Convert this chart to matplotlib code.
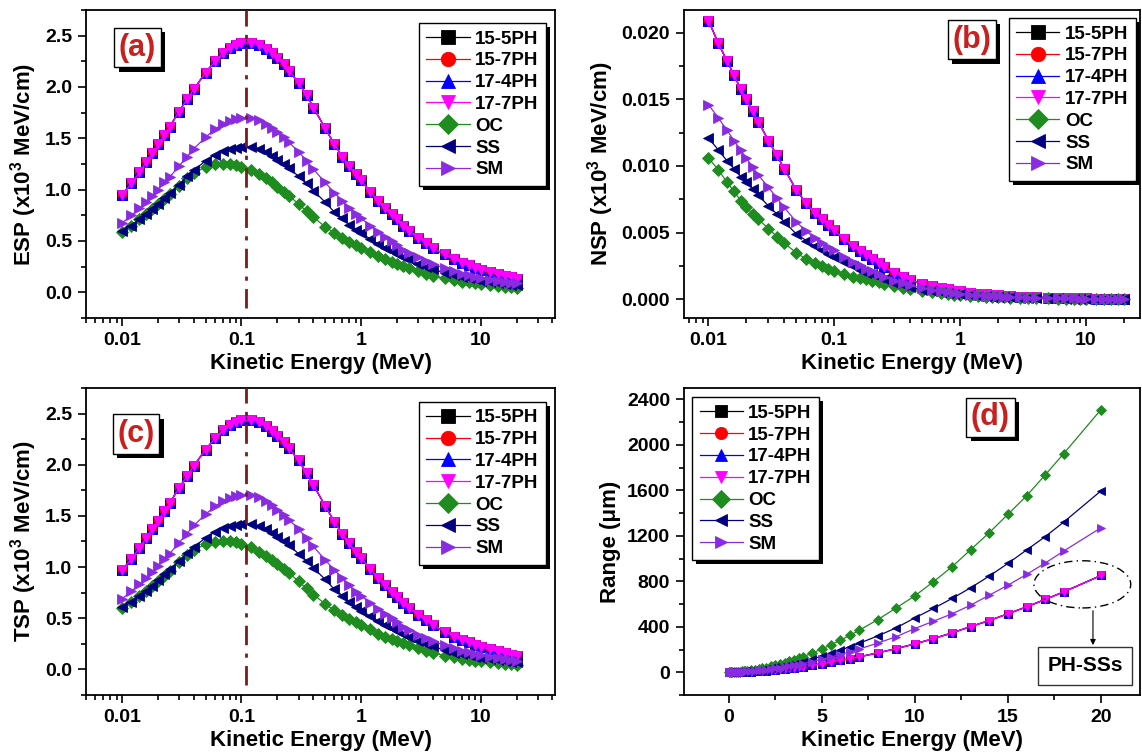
import matplotlib
matplotlib.use('Agg')
import matplotlib.pyplot as plt
import matplotlib.patheffects as pe
from matplotlib.patches import Ellipse
from matplotlib.ticker import MultipleLocator, LogLocator, NullFormatter, FuncFormatter, FixedLocator

plt.rcParams['font.family'] = ['Liberation Sans', 'DejaVu Sans']
plt.rcParams['font.weight'] = 'bold'
plt.rcParams['mathtext.fontset'] = 'custom'
plt.rcParams['mathtext.rm'] = 'Liberation Sans:bold'
plt.rcParams['mathtext.default'] = 'rm'

# ---- data ----
names = ['15-5PH', '15-7PH', '17-4PH', '17-7PH', 'OC', 'SS', 'SM']
colors = ['black', 'red', 'blue', 'magenta', '#1e8c1e', '#000080', '#8a2be2']
markers = ['s', 'o', '^', 'v', 'D', '<', '>']

# kinetic energy (MeV) for panels a-c
energy = [0.010, 0.012, 0.014, 0.016, 0.018, 0.020, 0.0225, 0.025, 0.030, 0.035, 0.040, 0.050, 0.060, 0.070, 0.080, 0.090,
          0.10, 0.12, 0.14, 0.16, 0.18, 0.20, 0.225, 0.25, 0.30, 0.35, 0.40, 0.50, 0.60, 0.70, 0.80, 0.90,
          1.0, 1.2, 1.4, 1.6, 1.8, 2.0, 2.25, 2.5, 3.0, 3.5, 4.0, 5.0, 6.0, 7.0, 8.0, 9.0,
          10, 12, 14, 16, 18, 20]

# electronic stopping power (x10^3 MeV/cm); the four PH steels overlap
esp_ph = [0.95, 1.06, 1.17, 1.27, 1.36, 1.44, 1.53, 1.61, 1.76, 1.88, 1.98, 2.14, 2.25, 2.33, 2.38, 2.41,
          2.43, 2.43, 2.41, 2.37, 2.33, 2.28, 2.22, 2.16, 2.04, 1.92, 1.80, 1.60, 1.44, 1.32, 1.23, 1.15,
          1.09, 0.98, 0.89, 0.82, 0.76, 0.71, 0.65, 0.60, 0.53, 0.48, 0.43, 0.37, 0.32, 0.29, 0.265, 0.24,
          0.22, 0.195, 0.175, 0.158, 0.145, 0.133]
esp_oc = [0.59, 0.65, 0.71, 0.76, 0.81, 0.86, 0.91, 0.96, 1.04, 1.11, 1.16, 1.22, 1.245, 1.25, 1.25, 1.24,
          1.22, 1.19, 1.15, 1.11, 1.07, 1.03, 0.98, 0.94, 0.86, 0.79, 0.73, 0.64, 0.575, 0.53, 0.49, 0.46,
          0.435, 0.39, 0.35, 0.32, 0.295, 0.275, 0.255, 0.235, 0.205, 0.18, 0.163, 0.135, 0.117, 0.104, 0.096, 0.087,
          0.080, 0.070, 0.062, 0.055, 0.050, 0.046]
esp_ss = [0.594, 0.65, 0.71, 0.76, 0.81, 0.86, 0.92, 0.97, 1.05, 1.13, 1.19, 1.28, 1.34, 1.38, 1.40, 1.41,
          1.42, 1.42, 1.40, 1.37, 1.33, 1.29, 1.25, 1.21, 1.13, 1.06, 0.99, 0.88, 0.78, 0.72, 0.66, 0.61,
          0.575, 0.52, 0.47, 0.43, 0.40, 0.375, 0.345, 0.32, 0.28, 0.25, 0.225, 0.19, 0.165, 0.148, 0.137, 0.125,
          0.115, 0.100, 0.090, 0.081, 0.075, 0.069]
esp_sm = [0.675, 0.75, 0.82, 0.88, 0.94, 1.00, 1.07, 1.12, 1.23, 1.32, 1.40, 1.51, 1.59, 1.64, 1.67, 1.69,
          1.70, 1.70, 1.68, 1.64, 1.60, 1.56, 1.51, 1.46, 1.37, 1.28, 1.20, 1.07, 0.97, 0.89, 0.82, 0.76,
          0.72, 0.65, 0.59, 0.54, 0.50, 0.46, 0.415, 0.385, 0.34, 0.305, 0.275, 0.235, 0.205, 0.183, 0.166, 0.152,
          0.141, 0.123, 0.110, 0.100, 0.093, 0.087]

# nuclear stopping power (x10^3 MeV/cm)
nsp_ph = [0.0209, 0.0192, 0.0179, 0.0168, 0.0158, 0.0150, 0.0141, 0.0133, 0.0119, 0.0108, 0.0098, 0.0082, 0.0072, 0.0065, 0.0060, 0.0056,
          0.0052, 0.0045, 0.0040, 0.0036, 0.0033, 0.0030, 0.0027, 0.0024, 0.0020, 0.0017, 0.00145, 0.00118, 0.00098, 0.00084, 0.00074, 0.00066,
          0.00060, 0.00050, 0.00043, 0.00038, 0.00034, 0.00031, 0.00028, 0.00025, 0.00021, 0.00018, 0.00016, 0.00013, 0.00011, 0.000095, 0.000085, 0.000076,
          0.000069, 0.000058, 0.000050, 0.000045, 0.000040, 0.000036]
nsp_oc = [0.0106, 0.0097, 0.0088, 0.0081, 0.0074, 0.0069, 0.0064, 0.0060, 0.0053, 0.0047, 0.0042, 0.0035, 0.0030, 0.0027, 0.0025, 0.0023,
          0.0021, 0.0019, 0.0017, 0.0016, 0.0015, 0.0014, 0.00128, 0.00118, 0.00100, 0.00087, 0.00076, 0.00062, 0.00052, 0.00045, 0.00040, 0.00036,
          0.00032, 0.00027, 0.00023, 0.00020, 0.00018, 0.00016, 0.00015, 0.00013, 0.00011, 0.000095, 0.000083, 0.000068, 0.000057, 0.000050, 0.000044, 0.000040,
          0.000036, 0.000030, 0.000026, 0.000023, 0.000021, 0.000019]
nsp_ss = [0.0121, 0.0112, 0.0104, 0.0098, 0.0092, 0.0088, 0.0083, 0.0078, 0.0070, 0.0064, 0.0058, 0.0049, 0.0044, 0.0040, 0.0037, 0.0034,
          0.0032, 0.0028, 0.0025, 0.0022, 0.0020, 0.0019, 0.0017, 0.0015, 0.0012, 0.00105, 0.0009, 0.00073, 0.00061, 0.00052, 0.00046, 0.00041,
          0.00037, 0.00031, 0.00027, 0.00024, 0.00021, 0.00019, 0.00017, 0.000155, 0.00013, 0.00011, 0.0001, 0.000081, 0.000068, 0.000059, 0.000053, 0.000047,
          0.000043, 0.000036, 0.000031, 0.000028, 0.000025, 0.000022]
nsp_sm = [0.0146, 0.0136, 0.0127, 0.0119, 0.0112, 0.0106, 0.0099, 0.0093, 0.0084, 0.0076, 0.0069, 0.0058, 0.0051, 0.0046, 0.0042, 0.0039,
          0.0037, 0.0032, 0.0028, 0.0026, 0.0023, 0.0021, 0.0019, 0.0017, 0.0014, 0.0012, 0.00104, 0.00085, 0.00071, 0.00060, 0.00053, 0.00047,
          0.00043, 0.00036, 0.00031, 0.00027, 0.00024, 0.00022, 0.00020, 0.00018, 0.00015, 0.00013, 0.000115, 0.000094, 0.000079, 0.000068, 0.000061, 0.000055,
          0.000050, 0.000042, 0.000036, 0.000032, 0.000029, 0.000026]

# total stopping power (x10^3 MeV/cm)
tsp_ph = [0.971, 1.079, 1.188, 1.287, 1.376, 1.455, 1.544, 1.623, 1.772, 1.891, 1.990, 2.148, 2.257, 2.337, 2.386, 2.416,
          2.435, 2.435, 2.414, 2.374, 2.333, 2.283, 2.223, 2.162, 2.042, 1.922, 1.801, 1.601, 1.441, 1.321, 1.231, 1.151,
          1.091, 0.981, 0.890, 0.820, 0.760, 0.710, 0.650, 0.600, 0.530, 0.480, 0.430, 0.370, 0.320, 0.290, 0.265, 0.240,
          0.220, 0.195, 0.175, 0.158, 0.145, 0.133]
tsp_oc = [0.601, 0.660, 0.719, 0.768, 0.817, 0.867, 0.916, 0.966, 1.045, 1.115, 1.164, 1.224, 1.248, 1.253, 1.253, 1.242,
          1.222, 1.192, 1.152, 1.112, 1.072, 1.031, 0.981, 0.941, 0.861, 0.791, 0.731, 0.641, 0.576, 0.531, 0.490, 0.460,
          0.435, 0.39, 0.35, 0.32, 0.295, 0.275, 0.255, 0.235, 0.205, 0.18, 0.163, 0.135, 0.117, 0.104, 0.096, 0.087,
          0.080, 0.070, 0.062, 0.055, 0.050, 0.046]
tsp_ss = [0.606, 0.661, 0.720, 0.770, 0.819, 0.869, 0.928, 0.978, 1.057, 1.136, 1.196, 1.285, 1.344, 1.384, 1.404, 1.413,
          1.423, 1.423, 1.403, 1.372, 1.332, 1.292, 1.252, 1.212, 1.131, 1.061, 0.991, 0.881, 0.781, 0.721, 0.660, 0.610,
          0.575, 0.52, 0.47, 0.43, 0.40, 0.375, 0.345, 0.32, 0.28, 0.25, 0.225, 0.19, 0.165, 0.148, 0.137, 0.125,
          0.115, 0.100, 0.090, 0.081, 0.075, 0.069]
tsp_sm = [0.690, 0.764, 0.833, 0.892, 0.951, 1.011, 1.080, 1.129, 1.238, 1.328, 1.407, 1.516, 1.595, 1.645, 1.674, 1.694,
          1.704, 1.703, 1.683, 1.643, 1.602, 1.562, 1.512, 1.462, 1.371, 1.281, 1.201, 1.071, 0.971, 0.891, 0.821, 0.760,
          0.720, 0.650, 0.590, 0.540, 0.500, 0.460, 0.415, 0.385, 0.340, 0.305, 0.275, 0.235, 0.205, 0.183, 0.166, 0.152,
          0.141, 0.123, 0.110, 0.100, 0.093, 0.087]

# projected range (um) for panel d
range_energy = [0.01, 0.05, 0.1, 0.2, 0.3, 0.4, 0.5, 0.6, 0.7, 0.8, 0.9, 1.0, 1.2, 1.4, 1.6, 1.8,
                2.0, 2.25, 2.5, 2.75, 3.0, 3.25, 3.5, 3.75, 4.0, 4.5, 5.0, 5.5, 6.0, 6.5, 7.0,
                8, 9, 10, 11, 12, 13, 14, 15, 16, 17, 18, 20]
range_ph = [0.04, 0.15, 0.26, 0.5, 0.85, 1.2, 1.6, 2.1, 2.6, 3.2, 3.9, 4.6, 6.3, 8.1, 10.3, 12.5,
            15, 18.8, 22.5, 26.5, 30.5, 35, 40, 45, 50, 63, 75, 89, 104, 119, 135,
            170, 208, 249, 296, 346, 402, 455, 514, 575, 640, 707, 851]
range_oc = [0.1, 0.4, 0.7, 1.4, 2.3, 3.2, 4.3, 5.6, 7.0, 8.7, 10.5, 12.5, 17, 22, 28, 34,
            41, 51, 61, 72, 83, 95, 108, 121, 136, 170, 204, 242, 282, 324, 368,
            462, 566, 672, 796, 928, 1078, 1228, 1389, 1551, 1735, 1923, 2310]
range_ss = [0.1, 0.3, 0.5, 1.0, 1.6, 2.2, 3.0, 3.9, 4.8, 6.0, 7.2, 8.6, 12, 15, 19, 23.5,
            28, 35, 42, 50, 57, 66, 75, 84, 94, 117, 141, 167, 195, 224, 254,
            319, 391, 478, 561, 649, 743, 846, 957, 1075, 1192, 1321, 1595]
range_sm = [0.05, 0.2, 0.4, 0.8, 1.3, 1.8, 2.4, 3.1, 3.9, 4.8, 5.8, 6.9, 9.4, 12, 15.5, 19,
            23, 28, 34, 40, 46, 53, 60, 67, 76, 94, 113, 134, 156, 180, 204,
            256, 313, 384, 449, 514, 590, 678, 766, 860, 960, 1066, 1271]

esp = [esp_ph, esp_ph, esp_ph, esp_ph, esp_oc, esp_ss, esp_sm]
nsp = [nsp_ph, nsp_ph, nsp_ph, nsp_ph, nsp_oc, nsp_ss, nsp_sm]
tsp = [tsp_ph, tsp_ph, tsp_ph, tsp_ph, tsp_oc, tsp_ss, tsp_sm]
rng = [range_ph, range_ph, range_ph, range_ph, range_oc, range_ss, range_sm]

fig = plt.figure(figsize=(11.42, 7.56), dpi=100)
ax_a = fig.add_axes([0.0753, 0.5794, 0.4107, 0.4074])
ax_b = fig.add_axes([0.599, 0.5794, 0.3993, 0.4074])
ax_c = fig.add_axes([0.0753, 0.0807, 0.4107, 0.4061])
ax_d = fig.add_axes([0.599, 0.0807, 0.3993, 0.4061])

box_shadow = [pe.SimplePatchShadow(offset=(3, -3), shadow_rgbFace='black', alpha=1.0), pe.Normal()]


def plot_series(ax, x, ys, ms):
    for name, col, mk, y in zip(names, colors, markers, ys):
        ax.plot(x, y, color=col, marker=mk, ms=ms, mec=col, mew=0.6, lw=0.9, label=name)


def style_axes(ax):
    for sp in ax.spines.values():
        sp.set_linewidth(1.3)
    ax.tick_params(which='both', direction='out', top=False, right=False, width=1.2, labelsize=14)
    ax.tick_params(which='major', length=6, pad=4)
    ax.tick_params(which='minor', length=3.5)
    ax.set_xlabel('Kinetic Energy (MeV)', fontsize=16, fontweight='bold', labelpad=3)


def log_xaxis(ax):
    ax.set_xscale('log')
    ax.xaxis.set_major_locator(FixedLocator([0.01, 0.1, 1, 10]))
    ax.xaxis.set_major_formatter(FuncFormatter(lambda v, p: '%g' % v))
    ax.xaxis.set_minor_locator(LogLocator(base=10, subs=range(2, 10), numticks=20))
    ax.xaxis.set_minor_formatter(NullFormatter())


def add_legend(ax, anchor, loc):
    leg = ax.legend(loc=loc, bbox_to_anchor=anchor, fontsize=13.5, frameon=True, fancybox=False,
                    edgecolor='black', shadow=False, markerscale=1.6,
                    handlelength=2.3, labelspacing=0.25, borderpad=0.4, handletextpad=0.3,
                    borderaxespad=0)
    frame = leg.get_frame()
    frame.set_linewidth(1.0)
    frame.set_alpha(1.0)
    frame.set_path_effects(box_shadow)


def panel_tag(ax, x, y, s):
    t = ax.text(x, y, s, transform=ax.transAxes, fontsize=22, color='#c8201e', ha='center', va='center',
                bbox=dict(boxstyle='square,pad=0.15', fc='white', ec='black', lw=1), zorder=9)
    t.get_bbox_patch().set_path_effects(box_shadow)


# (a) electronic stopping power
plot_series(ax_a, energy, esp, 6.5)
ax_a.plot([0.11, 0.11], [-0.15, 2.75], color='#7a1c1c', lw=2, ls=(0, (7, 3, 1.5, 3)), zorder=6)
log_xaxis(ax_a)
ax_a.set_xlim(0.005, 42)
ax_a.set_ylim(-0.25, 2.75)
ax_a.yaxis.set_major_locator(MultipleLocator(0.5))
ax_a.yaxis.set_minor_locator(MultipleLocator(0.25))
ax_a.yaxis.set_major_formatter(FuncFormatter(lambda v, p: '%.1f' % v))
style_axes(ax_a)
ax_a.set_ylabel('ESP (x10$^3$ MeV/cm)', fontsize=16, fontweight='bold')
add_legend(ax_a, (0.981, 0.958), 'upper right')
panel_tag(ax_a, 0.11, 0.877, '(a)')

# (b) nuclear stopping power
plot_series(ax_b, energy, nsp, 6.5)
log_xaxis(ax_b)
ax_b.set_xlim(0.0064, 27)
ax_b.set_ylim(-0.0014, 0.0217)
ax_b.yaxis.set_major_locator(MultipleLocator(0.005))
ax_b.yaxis.set_minor_locator(MultipleLocator(0.0025))
ax_b.yaxis.set_major_formatter(FuncFormatter(lambda v, p: '%.3f' % v))
style_axes(ax_b)
ax_b.set_ylabel('NSP (x10$^3$ MeV/cm)', fontsize=16, fontweight='bold')
add_legend(ax_b, (0.991, 0.974), 'upper right')
panel_tag(ax_b, 0.631, 0.903, '(b)')

# (c) total stopping power
plot_series(ax_c, energy, tsp, 6.5)
ax_c.plot([0.11, 0.11], [-0.15, 2.75], color='#7a1c1c', lw=2, ls=(0, (7, 3, 1.5, 3)), zorder=6)
log_xaxis(ax_c)
ax_c.set_xlim(0.005, 42)
ax_c.set_ylim(-0.25, 2.75)
ax_c.yaxis.set_major_locator(MultipleLocator(0.5))
ax_c.yaxis.set_minor_locator(MultipleLocator(0.25))
ax_c.yaxis.set_major_formatter(FuncFormatter(lambda v, p: '%.1f' % v))
style_axes(ax_c)
ax_c.set_ylabel('TSP (x10$^3$ MeV/cm)', fontsize=16, fontweight='bold')
add_legend(ax_c, (0.981, 0.955), 'upper right')
panel_tag(ax_c, 0.107, 0.85, '(c)')

# (d) range
plot_series(ax_d, range_energy, rng, 5.5)
ax_d.set_xlim(-2.4, 22.1)
ax_d.set_ylim(-200, 2500)
ax_d.xaxis.set_major_locator(MultipleLocator(5))
ax_d.xaxis.set_minor_locator(MultipleLocator(2.5))
ax_d.yaxis.set_major_locator(FixedLocator([0, 400, 800, 1200, 1600, 2000, 2400]))
ax_d.yaxis.set_minor_locator(MultipleLocator(200))
style_axes(ax_d)
ax_d.set_ylabel('Range (\u03bcm)', fontsize=16, fontweight='bold')
add_legend(ax_d, (0.0175, 0.97), 'upper left')
panel_tag(ax_d, 0.672, 0.905, '(d)')

ax_d.add_patch(Ellipse((19.0, 773), width=5.2, height=415, fill=False, ec='black', lw=1,
                       ls=(0, (6, 3, 1, 3)), zorder=7))
ax_d.annotate('', xy=(19.57, 214), xytext=(19.57, 566),
              arrowprops=dict(arrowstyle='-|>', color='black', lw=0.8, mutation_scale=8), zorder=7)
ax_d.text(19.15, 58, 'PH-SSs', ha='center', va='center', fontsize=15, fontweight='bold', zorder=8,
          bbox=dict(boxstyle='square,pad=0.45', fc='white', ec='#333333', lw=1))

fig.savefig('out.png', dpi=100)
